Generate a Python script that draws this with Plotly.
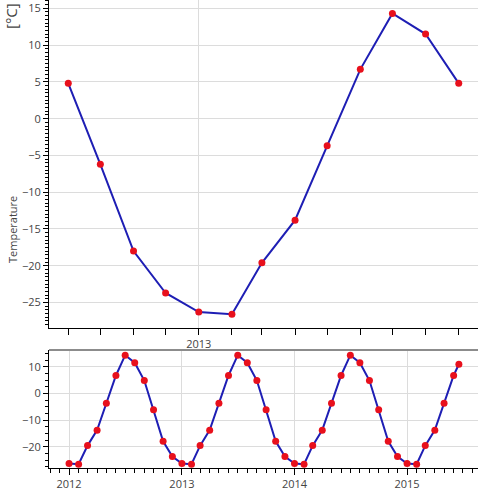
import pandas as pd
import plotly.graph_objects as go
from plotly.subplots import make_subplots

# Monthly temperature series (°C), Jan 2012 .. Jun 2015, plus a final partial reading
dates = list(pd.date_range("2012-01-01", "2015-06-01", freq="MS").strftime("%Y-%m-%d")) + ["2015-06-18"]
temps = [
    -26.3, -26.6, -19.6, -13.8, -3.7, 6.7, 14.3, 11.5, 4.8, -6.2, -18.0, -23.7,   # 2012
    -26.3, -26.6, -19.6, -13.8, -3.7, 6.7, 14.3, 11.5, 4.8, -6.2, -18.0, -23.7,   # 2013
    -26.3, -26.6, -19.6, -13.8, -3.7, 6.7, 14.3, 11.5, 4.8, -6.2, -18.0, -23.7,   # 2014
    -26.3, -26.6, -19.6, -13.8, -3.7, 6.7, 10.9,                                  # 2015
]

# zoomed window shown in the upper panel
window_start, window_end = "2012-09-01", "2013-09-01"

top_range_x = ["2012-08-14", "2013-09-19"]
bot_range_x = ["2011-10-28", "2015-08-19"]

H, W = 490, 478
ml, mr, mt, mb = 49, 0, 0, 22
ph = H - mt - mb

def frac(px):
    return (H - mb - px) / ph

sel = [(d, t) for d, t in zip(dates, temps) if window_start <= d <= window_end]
top_dates = [d for d, _ in sel]
top_temps = [t for _, t in sel]

fig = make_subplots(rows=2, cols=1)

line_color = "#1e1eb4"
marker_color = "#e8101c"

fig.add_trace(go.Scatter(
    x=top_dates, y=top_temps, mode="lines+markers",
    line=dict(color=line_color, width=2),
    marker=dict(color=marker_color, size=7),
    showlegend=False, hoverinfo="x+y",
), row=1, col=1)
fig.add_trace(go.Scatter(
    x=dates, y=temps, mode="lines+markers",
    line=dict(color=line_color, width=2),
    marker=dict(color=marker_color, size=7),
    showlegend=False, hoverinfo="x+y",
), row=2, col=1)

font = dict(family="Open Sans, DejaVu Sans, sans-serif", size=11, color="#444")
grid = "#dcdcdc"

fig.update_layout(
    width=W, height=H,
    margin=dict(l=ml, r=mr, t=mt, b=mb),
    paper_bgcolor="white", plot_bgcolor="white",
    font=font,
    xaxis=dict(domain=[0, 1], range=top_range_x, type="date",
               dtick="M12", tick0="2013-01-01", tickformat="%Y",
               ticks="outside", ticklen=6, tickcolor="#000",
               showline=True, linecolor="#000", linewidth=1,
               showgrid=True, gridcolor=grid, zeroline=False,
               minor=dict(dtick="M1", tick0="2012-01-01", ticks="outside", ticklen=6, tickcolor="#000", showgrid=False)),
    yaxis=dict(domain=[frac(328), 1], range=[-28.46, 16.13],
               dtick=5, ticks="outside", ticklen=5, tickcolor="#000",
               showline=True, linecolor="#000", linewidth=1,
               showgrid=True, gridcolor=grid, zeroline=False,
               minor=dict(dtick=0.5, ticks="outside", ticklen=3, tickcolor="#000", showgrid=False)),
    xaxis2=dict(domain=[0, 1], range=bot_range_x, type="date",
                dtick="M12", tick0="2012-01-01", tickformat="%Y",
                ticks="outside", ticklen=6, tickcolor="#000",
                showline=True, linecolor="#000", linewidth=1,
                showgrid=True, gridcolor=grid, zeroline=False,
                minor=dict(dtick="M1", tick0="2012-01-01", ticks="outside", ticklen=4, tickcolor="#000", showgrid=False)),
    yaxis2=dict(domain=[0, frac(350)], range=[-28.0, 16.25],
                dtick=10, ticks="outside", ticklen=5, tickcolor="#000",
                showline=True, linecolor="#000", linewidth=1,
                showgrid=True, gridcolor=grid, zeroline=False,
                minor=dict(dtick=2.5, ticks="outside", ticklen=3, tickcolor="#000", showgrid=False)),
)

# gray top border of the lower (overview) panel
fig.add_shape(type="line", xref="x2 domain", yref="y2 domain", x0=0, x1=1, y0=1, y1=1,
              line=dict(color="#8c8c8c", width=2))

fig.add_annotation(text="Temperature", textangle=-90, xref="paper", yref="paper",
                   x=-37 / (W - ml - mr), y=frac(230), xanchor="center", yanchor="middle",
                   showarrow=False, font=dict(family="Open Sans, DejaVu Sans, sans-serif", size=11, color="#444"))
fig.add_annotation(text="[°C]", textangle=-90, xref="paper", yref="paper",
                   x=-38 / (W - ml - mr), y=frac(16), xanchor="center", yanchor="middle",
                   showarrow=False, font=dict(family="Open Sans, DejaVu Sans, sans-serif", size=15, color="#444"))

fig.write_html("out.html")
